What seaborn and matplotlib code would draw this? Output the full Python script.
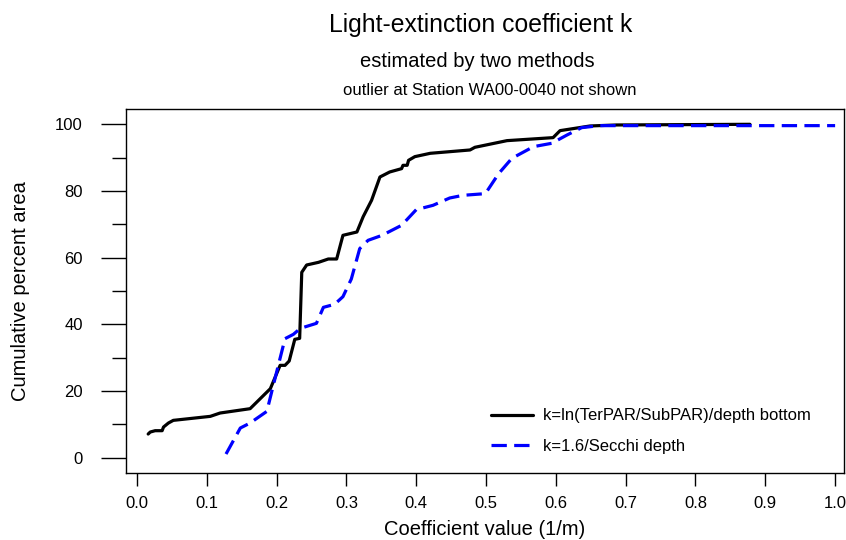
import numpy as np
import pandas as pd
import matplotlib
matplotlib.use("Agg")
import matplotlib.pyplot as plt
import seaborn as sns
from matplotlib.ticker import FixedLocator

# ---- data ----
k_terpar = [0.016, 0.019, 0.026, 0.036, 0.038, 0.045, 0.052, 0.105, 0.119, 0.162,
            0.191, 0.205, 0.212, 0.218, 0.226, 0.233, 0.236, 0.243, 0.260, 0.274,
            0.286, 0.295, 0.315, 0.324, 0.336, 0.348, 0.362, 0.379, 0.381, 0.387,
            0.389, 0.398, 0.420, 0.477, 0.484, 0.530, 0.596, 0.606, 0.649, 0.687,
            0.878]
pct_terpar = [7.1, 7.7, 8.1, 8.1, 9.2, 10.4, 11.2, 12.4, 13.4, 14.7,
              20.7, 27.7, 27.7, 29.0, 35.5, 35.8, 55.6, 57.8, 58.6, 59.6,
              59.6, 66.7, 67.7, 72.3, 77.2, 84.2, 85.7, 86.7, 87.7, 87.7,
              89.2, 90.3, 91.3, 92.3, 93.1, 95.1, 96.0, 98.1, 99.5, 99.8,
              100.0]

k_secchi = [0.1275, 0.148, 0.162, 0.186, 0.195, 0.212, 0.224, 0.234, 0.257, 0.267,
            0.283, 0.295, 0.307, 0.319, 0.331, 0.351, 0.379, 0.400, 0.424, 0.448,
            0.467, 0.499, 0.518, 0.537, 0.568, 0.594, 0.616, 0.637, 0.663, 1.0]
pct_secchi = [1.1, 8.9, 10.4, 13.9, 21.5, 35.7, 37.0, 38.8, 40.3, 45.1,
              46.0, 48.3, 53.6, 62.7, 65.2, 66.7, 69.7, 74.4, 75.7, 77.9,
              78.7, 79.2, 85.2, 89.8, 93.3, 94.3, 96.8, 99.0, 99.6, 99.6]

label_terpar = "k=ln(TerPAR/SubPAR)/depth bottom"
label_secchi = "k=1.6/Secchi depth"

x_ticks = [0.0, 0.1, 0.2, 0.3, 0.4, 0.5, 0.6, 0.7, 0.8, 0.9, 1.0]
x_ticklabels = ["0.0", "0.1", "0.2", "0.3", "0.4", "0.5", "0.6", "0.7", "0.8", "0.9", "1.0"]
y_ticks = [0, 20, 40, 60, 80, 100]
y_minor = [10, 30, 50, 70, 90]

title = "Light-extinction coefficient k"
subtitle = "estimated by two methods"
note = "outlier at Station WA00-0040 not shown"

# ---- style ----
sns.set_theme(style="white")
plt.rcParams["font.family"] = ["Liberation Sans", "DejaVu Sans"]
plt.rcParams["text.color"] = "black"
plt.rcParams["axes.labelcolor"] = "black"
plt.rcParams["xtick.color"] = "black"
plt.rcParams["ytick.color"] = "black"

W, H = 846, 540
fig = plt.figure(figsize=(W / 100, H / 100), dpi=100)
ax_left, ax_right, ax_top, ax_bot = 126, 843.5, 109.3, 473
ax = fig.add_axes([ax_left / W, 1 - ax_bot / H, (ax_right - ax_left) / W, (ax_bot - ax_top) / H])

df1 = pd.DataFrame({"k": k_terpar, "pct": pct_terpar})
df2 = pd.DataFrame({"k": k_secchi, "pct": pct_secchi})

sns.lineplot(data=df1, x="k", y="pct", sort=False, estimator=None, ax=ax,
             color="black", linewidth=2.3, label=label_terpar)
sns.lineplot(data=df2, x="k", y="pct", sort=False, estimator=None, ax=ax,
             color="blue", linewidth=2.3, label=label_secchi, dashes=False)
ax.lines[1].set_dashes((4.8, 2.3))

ax.set_xlim(-0.01576, 1.0120)
ax.set_ylim(-4.59, 104.5)

for s in ax.spines.values():
    s.set_visible(True)
    s.set_color("black")
    s.set_linewidth(1.0)

ax.xaxis.set_major_locator(FixedLocator(x_ticks))
ax.set_xticklabels(x_ticklabels)
ax.yaxis.set_major_locator(FixedLocator(y_ticks))
ax.yaxis.set_minor_locator(FixedLocator(y_minor))
ax.tick_params(axis="x", which="major", bottom=True, direction="out", length=9.7,
               width=1.0, pad=7, labelsize=12)
ax.tick_params(axis="y", which="major", left=True, direction="out", length=18,
               width=1.0, pad=13, labelsize=12)
ax.tick_params(axis="y", which="minor", left=True, direction="out", length=10, width=1.0)

ax.set_xlabel("Coefficient value (1/m)", fontsize=14.5, labelpad=6)
ax.set_ylabel("Cumulative percent area", fontsize=14.5, labelpad=18)

leg = ax.legend(loc="center left", bbox_to_anchor=(490.7 / W, 1 - 431.2 / H),
                bbox_transform=fig.transFigure, frameon=False, fontsize=12,
                handlelength=2.55, handletextpad=0.6, labelspacing=0.93,
                borderpad=0, borderaxespad=0)

fig.text(481 / W, 1 - 32 / H, title, ha="center", va="baseline", fontsize=17.8)
fig.text(477 / W, 1 - 66.7 / H, subtitle, ha="center", va="baseline", fontsize=14.5)
fig.text(489.6 / W, 1 - 95 / H, note, ha="center", va="baseline", fontsize=12)

fig.savefig("out.png", dpi=100)
